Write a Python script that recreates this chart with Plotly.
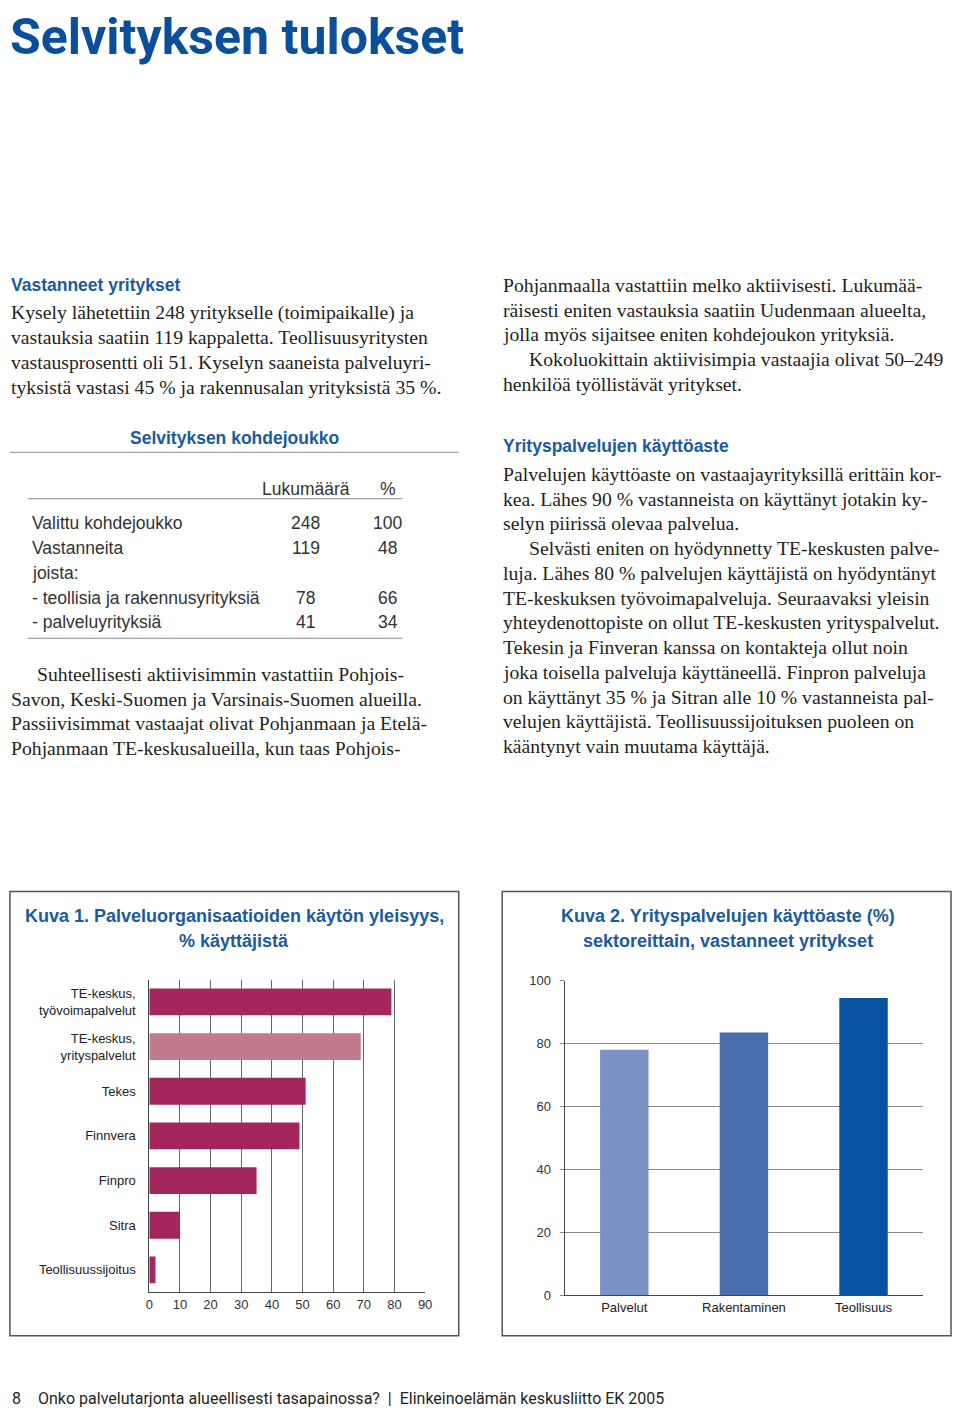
import plotly.graph_objects as go

W, H = 960, 1418

# ---------------- data ----------------
org_labels = ["TE-keskus,<br>työvoimapalvelut", "TE-keskus,<br>yrityspalvelut", "Tekes",
              "Finnvera", "Finpro", "Sitra", "Teollisuussijoitus"]
org_values = [79, 69, 51, 49, 35, 10, 2]
org_colors = ["#a3265c", "#c27b8c", "#a3265c", "#a3265c", "#a3265c", "#a3265c", "#a3265c"]

sector_labels = ["Palvelut", "Rakentaminen", "Teollisuus"]
sector_values = [78, 83.5, 94.5]
sector_colors = ["#7b93c4", "#4a6fae", "#0a53a0"]

table_rows = ["Valittu kohdejoukko", "Vastanneita", "joista:",
              "- teollisia ja rakennusyrityksiä", "- palveluyrityksiä"]
table_counts = ["248", "119", "", "78", "41"]
table_pcts = ["100", "48", "", "66", "34"]

left_para1 = ["Kysely lähetettiin 248 yritykselle (toimipaikalle) ja",
              "vastauksia saatiin 119 kappaletta. Teollisuusyritysten",
              "vastausprosentti oli 51. Kyselyn saaneista palveluyri-",
              "tyksistä vastasi 45 % ja rakennusalan yrityksistä 35 %."]
left_para2 = ["Suhteellisesti aktiivisimmin vastattiin Pohjois-",
              "Savon, Keski-Suomen ja Varsinais-Suomen alueilla.",
              "Passiivisimmat vastaajat olivat Pohjanmaan ja Etelä-",
              "Pohjanmaan TE-keskusalueilla, kun taas Pohjois-"]
right_para1 = ["Pohjanmaalla vastattiin melko aktiivisesti. Lukumää-",
               "räisesti eniten vastauksia saatiin Uudenmaan alueelta,",
               "jolla myös sijaitsee eniten kohdejoukon yrityksiä.",
               "Kokoluokittain aktiivisimpia vastaajia olivat 50–249",
               "henkilöä työllistävät yritykset."]
right_para2 = ["Palvelujen käyttöaste on vastaajayrityksillä erittäin kor-",
               "kea. Lähes 90 % vastanneista on käyttänyt jotakin ky-",
               "selyn piirissä olevaa palvelua.",
               "Selvästi eniten on hyödynnetty TE-keskusten palve-",
               "luja. Lähes 80 % palvelujen käyttäjistä on hyödyntänyt",
               "TE-keskuksen työvoimapalveluja. Seuraavaksi yleisin",
               "yhteydenottopiste on ollut TE-keskusten yrityspalvelut.",
               "Tekesin ja Finveran kanssa on kontakteja ollut noin",
               "joka toisella palveluja käyttäneellä. Finpron palveluja",
               "on käyttänyt 35 % ja Sitran alle 10 % vastanneista pal-",
               "velujen käyttäjistä. Teollisuussijoituksen puoleen on",
               "kääntynyt vain muutama käyttäjä."]

BLUE = "#1a5a9e"
TXT = "#231f20"
SERIF = "Liberation Serif"
SANS = "Liberation Sans"


def px(x):
    return x / W


def py(y):
    return 1 - y / H


fig = go.Figure()

fig.add_trace(go.Bar(
    x=org_values, y=org_labels, orientation="h",
    marker=dict(color=org_colors, line=dict(width=0)), width=0.6,
    xaxis="x", yaxis="y", showlegend=False, hoverinfo="x+y"))

fig.add_trace(go.Bar(
    x=sector_labels, y=sector_values,
    marker=dict(color=sector_colors, line=dict(width=0)), width=0.405,
    xaxis="x2", yaxis="y2", showlegend=False))

annotations = []


def text(x, y, s, size=19.7, font=SERIF, color=TXT, anchor="left", weight="normal", yanchor="middle"):
    annotations.append(dict(
        x=px(x), y=py(y), xref="paper", yref="paper", text=s, showarrow=False,
        xanchor=anchor, yanchor=yanchor, borderpad=0,
        font=dict(family=font, size=size, color=color, weight=weight)))


# Page title
text(5, 0.5, "Selvityksen tulokset", size=50, font="Roboto", color="#0a4f9c", weight=700, yanchor="top")

# Left column
text(6, 281, "Vastanneet yritykset", size=17.5, font=SANS, color=BLUE, weight="bold")
for i, s in enumerate(left_para1):
    text(6, 309 + 25 * i, s)
for i, s in enumerate(left_para2):
    text(32 if i == 0 else 6, 674 + 25 * i, s)

# Right column
for i, s in enumerate(right_para1):
    text(530 if i == 3 else 504, 281 + 25 * i, s)
text(504, 444, "Yrityspalvelujen käyttöaste", size=17.5, font=SANS, color=BLUE, weight="bold")
for i, s in enumerate(right_para2):
    text(530 if i == 3 else 504, 472 + 25 * i, s)

# Table
text(233, 436, "Selvityksen kohdejoukko", size=17.5, font=SANS, color=BLUE, anchor="center", weight="bold")
text(305, 487, "Lukumäärä", size=17.5, font=SANS, color="#333333", anchor="center")
text(388, 487, "%", size=17.5, font=SANS, color="#333333", anchor="center")
for i, (lab, c, p) in enumerate(zip(table_rows, table_counts, table_pcts)):
    yy = 522 + 25 * i
    text(27, yy, lab, size=17.5, font=SANS, color="#333333")
    if c:
        text(305, yy, c, size=17.5, font=SANS, color="#333333", anchor="center")
        text(388, yy, p, size=17.5, font=SANS, color="#333333", anchor="center")

# Chart titles
text(233, 919, "Kuva 1. Palveluorganisaatioiden käytön yleisyys,", size=18, font=SANS, color=BLUE,
     anchor="center", weight="bold")
text(233, 944, "% käyttäjistä", size=18, font=SANS, color=BLUE, anchor="center", weight="bold")
text(732, 919, "Kuva 2. Yrityspalvelujen käyttöaste (%)", size=18, font=SANS, color=BLUE,
     anchor="center", weight="bold")
text(732, 944, "sektoreittain, vastanneet yritykset", size=18, font=SANS, color=BLUE,
     anchor="center", weight="bold")

# Footer
text(7, 1406, "8", size=16, font="Roboto", color=TXT)
text(33, 1406, "Onko palvelutarjonta alueellisesti tasapainossa?  |  Elinkeinoelämän keskusliitto EK 2005",
     size=16, font="Roboto", color=TXT)

shapes = []


def line(x0, y0, x1, y1, color="#8a8a8a", width=1.2):
    shapes.append(dict(type="line", xref="paper", yref="paper",
                       x0=px(x0), y0=py(y0), x1=px(x1), y1=py(y1),
                       line=dict(color=color, width=width)))


line(6, 450, 460, 450)
line(24, 497, 403, 497)
line(24, 638, 403, 638)

for x0, x1 in [(6, 460), (504, 958)]:
    shapes.append(dict(type="rect", xref="paper", yref="paper",
                       x0=px(x0), y0=py(1343), x1=px(x1), y1=py(894),
                       line=dict(color="#555555", width=1.5), fillcolor="rgba(0,0,0,0)"))

fig.update_layout(
    width=W, height=H, margin=dict(l=0, r=0, t=0, b=0, pad=0),
    paper_bgcolor="white", plot_bgcolor="white",
    annotations=annotations, shapes=shapes,
    xaxis=dict(domain=[px(147), px(426)], anchor="y", range=[0, 90], dtick=10,
               showgrid=True, gridcolor="#666666", gridwidth=1,
               showline=True, linecolor="#444444", linewidth=1,
               ticks="", tickfont=dict(family=SANS, size=13, color="#333333"),
               zeroline=False, fixedrange=True),
    yaxis=dict(domain=[py(1299), py(983)], anchor="x", autorange="reversed",
               showline=True, linecolor="#444444", linewidth=1, ticks="",
               ticklabelstandoff=10,
               tickfont=dict(family=SANS, size=13, color="#222222"), fixedrange=True),
    xaxis2=dict(domain=[px(567), px(930)], anchor="y2", showline=True,
                linecolor="#444444", linewidth=1, ticks="",
                tickfont=dict(family=SANS, size=13, color="#222222"), fixedrange=True),
    yaxis2=dict(domain=[py(1302), py(984)], anchor="x2", range=[0, 100], dtick=20,
                showgrid=True, gridcolor="#8a8a8a", gridwidth=1.2,
                showline=True, linecolor="#444444", linewidth=1,
                ticks="outside", ticklen=4, tickcolor="#888888",
                ticklabelstandoff=6,
                tickfont=dict(family=SANS, size=13, color="#333333"),
                zeroline=False, fixedrange=True),
)

# A tiny inline (data-URL) script that removes the default page margin before the
# figure is laid out; the post_script repeats it once the figure is drawn.
early_js = ("data:text/javascript,document.body.style.margin='0';"
            "document.documentElement.style.overflow='hidden';"
            "document.body.style.overflow='hidden';//.js")

fig.write_html(
    "out.html", config={"displayModeBar": False},
    include_mathjax=early_js,
    post_script=("document.documentElement.style.overflow='hidden';"
                 "document.body.style.margin='0';document.body.style.overflow='hidden';"))
